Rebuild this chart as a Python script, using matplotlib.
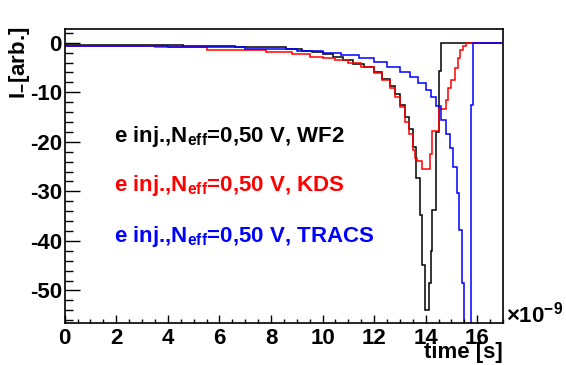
import matplotlib
matplotlib.use("Agg")
import matplotlib.pyplot as plt
from matplotlib.ticker import MultipleLocator

plt.rcParams['font.family'] = ['Liberation Sans', 'DejaVu Sans']
plt.rcParams['font.weight'] = 'bold'
plt.rcParams['axes.unicode_minus'] = False
plt.rcParams['mathtext.fontset'] = 'custom'
plt.rcParams['mathtext.rm'] = 'Liberation Sans:bold'
plt.rcParams['mathtext.bf'] = 'Liberation Sans:bold'
plt.rcParams['mathtext.it'] = 'Liberation Sans:bold'

# histogram bin edges [ns] and contents [arb.]
wf2_edges = [0, 4.6, 6.6, 8.6, 9.2, 9.6, 10.0, 10.4, 10.8, 11.2, 11.6, 12.0, 12.3, 12.6,
             12.8, 13.0, 13.2, 13.35, 13.5, 13.64, 13.77, 13.86, 13.96, 14.12, 14.19,
             14.26, 14.4, 14.53, 14.6, 17.0]
wf2_vals = [-0.5, -0.7, -0.9, -1.3, -1.6, -1.9, -2.3, -2.8, -3.4, -4.2, -5.0, -6.0, -7.3,
            -8.8, -10.3, -12.5, -15.0, -17.5, -21.0, -27.3, -34.8, -44.8, -53.9, -48.5,
            -42.0, -33.7, -18.0, -5.8, 0.0]

kds_edges = [0, 3.5, 5.5, 7.8, 8.8, 9.5, 10.0, 10.5, 11.0, 11.5, 12.0, 12.3, 12.6, 12.8,
             13.0, 13.2, 13.35, 13.5, 13.58, 13.67, 13.85, 14.15, 14.25, 14.53, 14.8,
             14.87, 14.97, 15.13, 15.26, 15.35, 15.45, 15.58, 17.0]
kds_vals = [-0.6, -0.9, -1.4, -1.8, -2.3, -2.8, -3.1, -3.5, -4.1, -5.0, -6.2, -7.6, -9.2,
            -11.0, -13.0, -16.0, -18.5, -21.6, -23.2, -23.8, -25.5, -22.5, -17.9, -13.4,
            -11.6, -9.2, -7.5, -5.1, -3.1, -1.5, -0.7, 0.0]

tracs_edges = [0, 4.0, 7.0, 9.0, 10.0, 10.7, 11.4, 12.0, 12.5, 13.0, 13.4, 13.7, 14.0,
               14.2, 14.4, 14.6, 14.8, 14.95, 15.05, 15.2, 15.3, 15.4, 15.5, 15.75, 15.82, 17.0]
tracs_vals = [-0.7, -0.9, -1.3, -1.7, -2.1, -2.5, -3.0, -3.8, -4.9, -5.9, -7.0, -8.2, -9.5,
              -10.9, -12.8, -15.6, -18.5, -21.3, -25.0, -30.4, -37.8, -48.5, -62.0, -12.6, 0.0]

labels = [r'e inj.,N$_{\mathbf{eff}}$=0,50 V, WF2',
          r'e inj.,N$_{\mathbf{eff}}$=0,50 V, KDS',
          r'e inj.,N$_{\mathbf{eff}}$=0,50 V, TRACS']
colors = ['black', 'red', 'blue']

fig = plt.figure(figsize=(5.66, 3.65), dpi=100)
ax = fig.add_axes([0.1143, 0.1159, 0.7744, 0.8038])

for e, v, c in zip([wf2_edges, kds_edges, tracs_edges], [wf2_vals, kds_vals, tracs_vals], colors):
    ax.stairs(v, e, color=c, lw=1.1, baseline=None)

ax.set_xlim(0, 17)
ax.set_ylim(-56.5, 2.7)
ax.xaxis.set_major_locator(MultipleLocator(2))
ax.xaxis.set_minor_locator(MultipleLocator(0.5))
ax.yaxis.set_major_locator(MultipleLocator(10))
ax.yaxis.set_minor_locator(MultipleLocator(2))
ax.tick_params(which='both', direction='in', width=1.0, labelsize=16)
ax.tick_params(axis='y', which='major', length=10.8, pad=2)
ax.tick_params(axis='y', which='minor', length=5.8)
ax.tick_params(axis='x', which='major', length=5.5, pad=4)
ax.tick_params(axis='x', which='minor', length=2.9)
for lab in ax.get_xticklabels() + ax.get_yticklabels():
    lab.set_fontweight('bold')
for s in ax.spines.values():
    s.set_linewidth(1.2)

ybase = [142, 191, 242]
for lab, c, yb in zip(labels, colors, ybase):
    ax.text(0.112, 1 - (yb - 29.3) / 293.4, lab, transform=ax.transAxes, color=c,
            fontsize=16, fontweight='bold', va='baseline', ha='left')

fig.text(503 / 566, 1 - 358 / 365, 'time [s]', ha='right', va='baseline',
         fontsize=16, fontweight='bold')
fig.text(506 / 566, 1 - 322 / 365, r'$\times$10$^{-9}$', ha='left', va='baseline',
         fontsize=16, fontweight='bold')
fig.text(20 / 566, 1 - 27 / 365, r'I$_{-}$[arb.]', rotation=90, ha='center', va='top',
         fontsize=16, fontweight='bold')

fig.savefig('out.png', dpi=100)
